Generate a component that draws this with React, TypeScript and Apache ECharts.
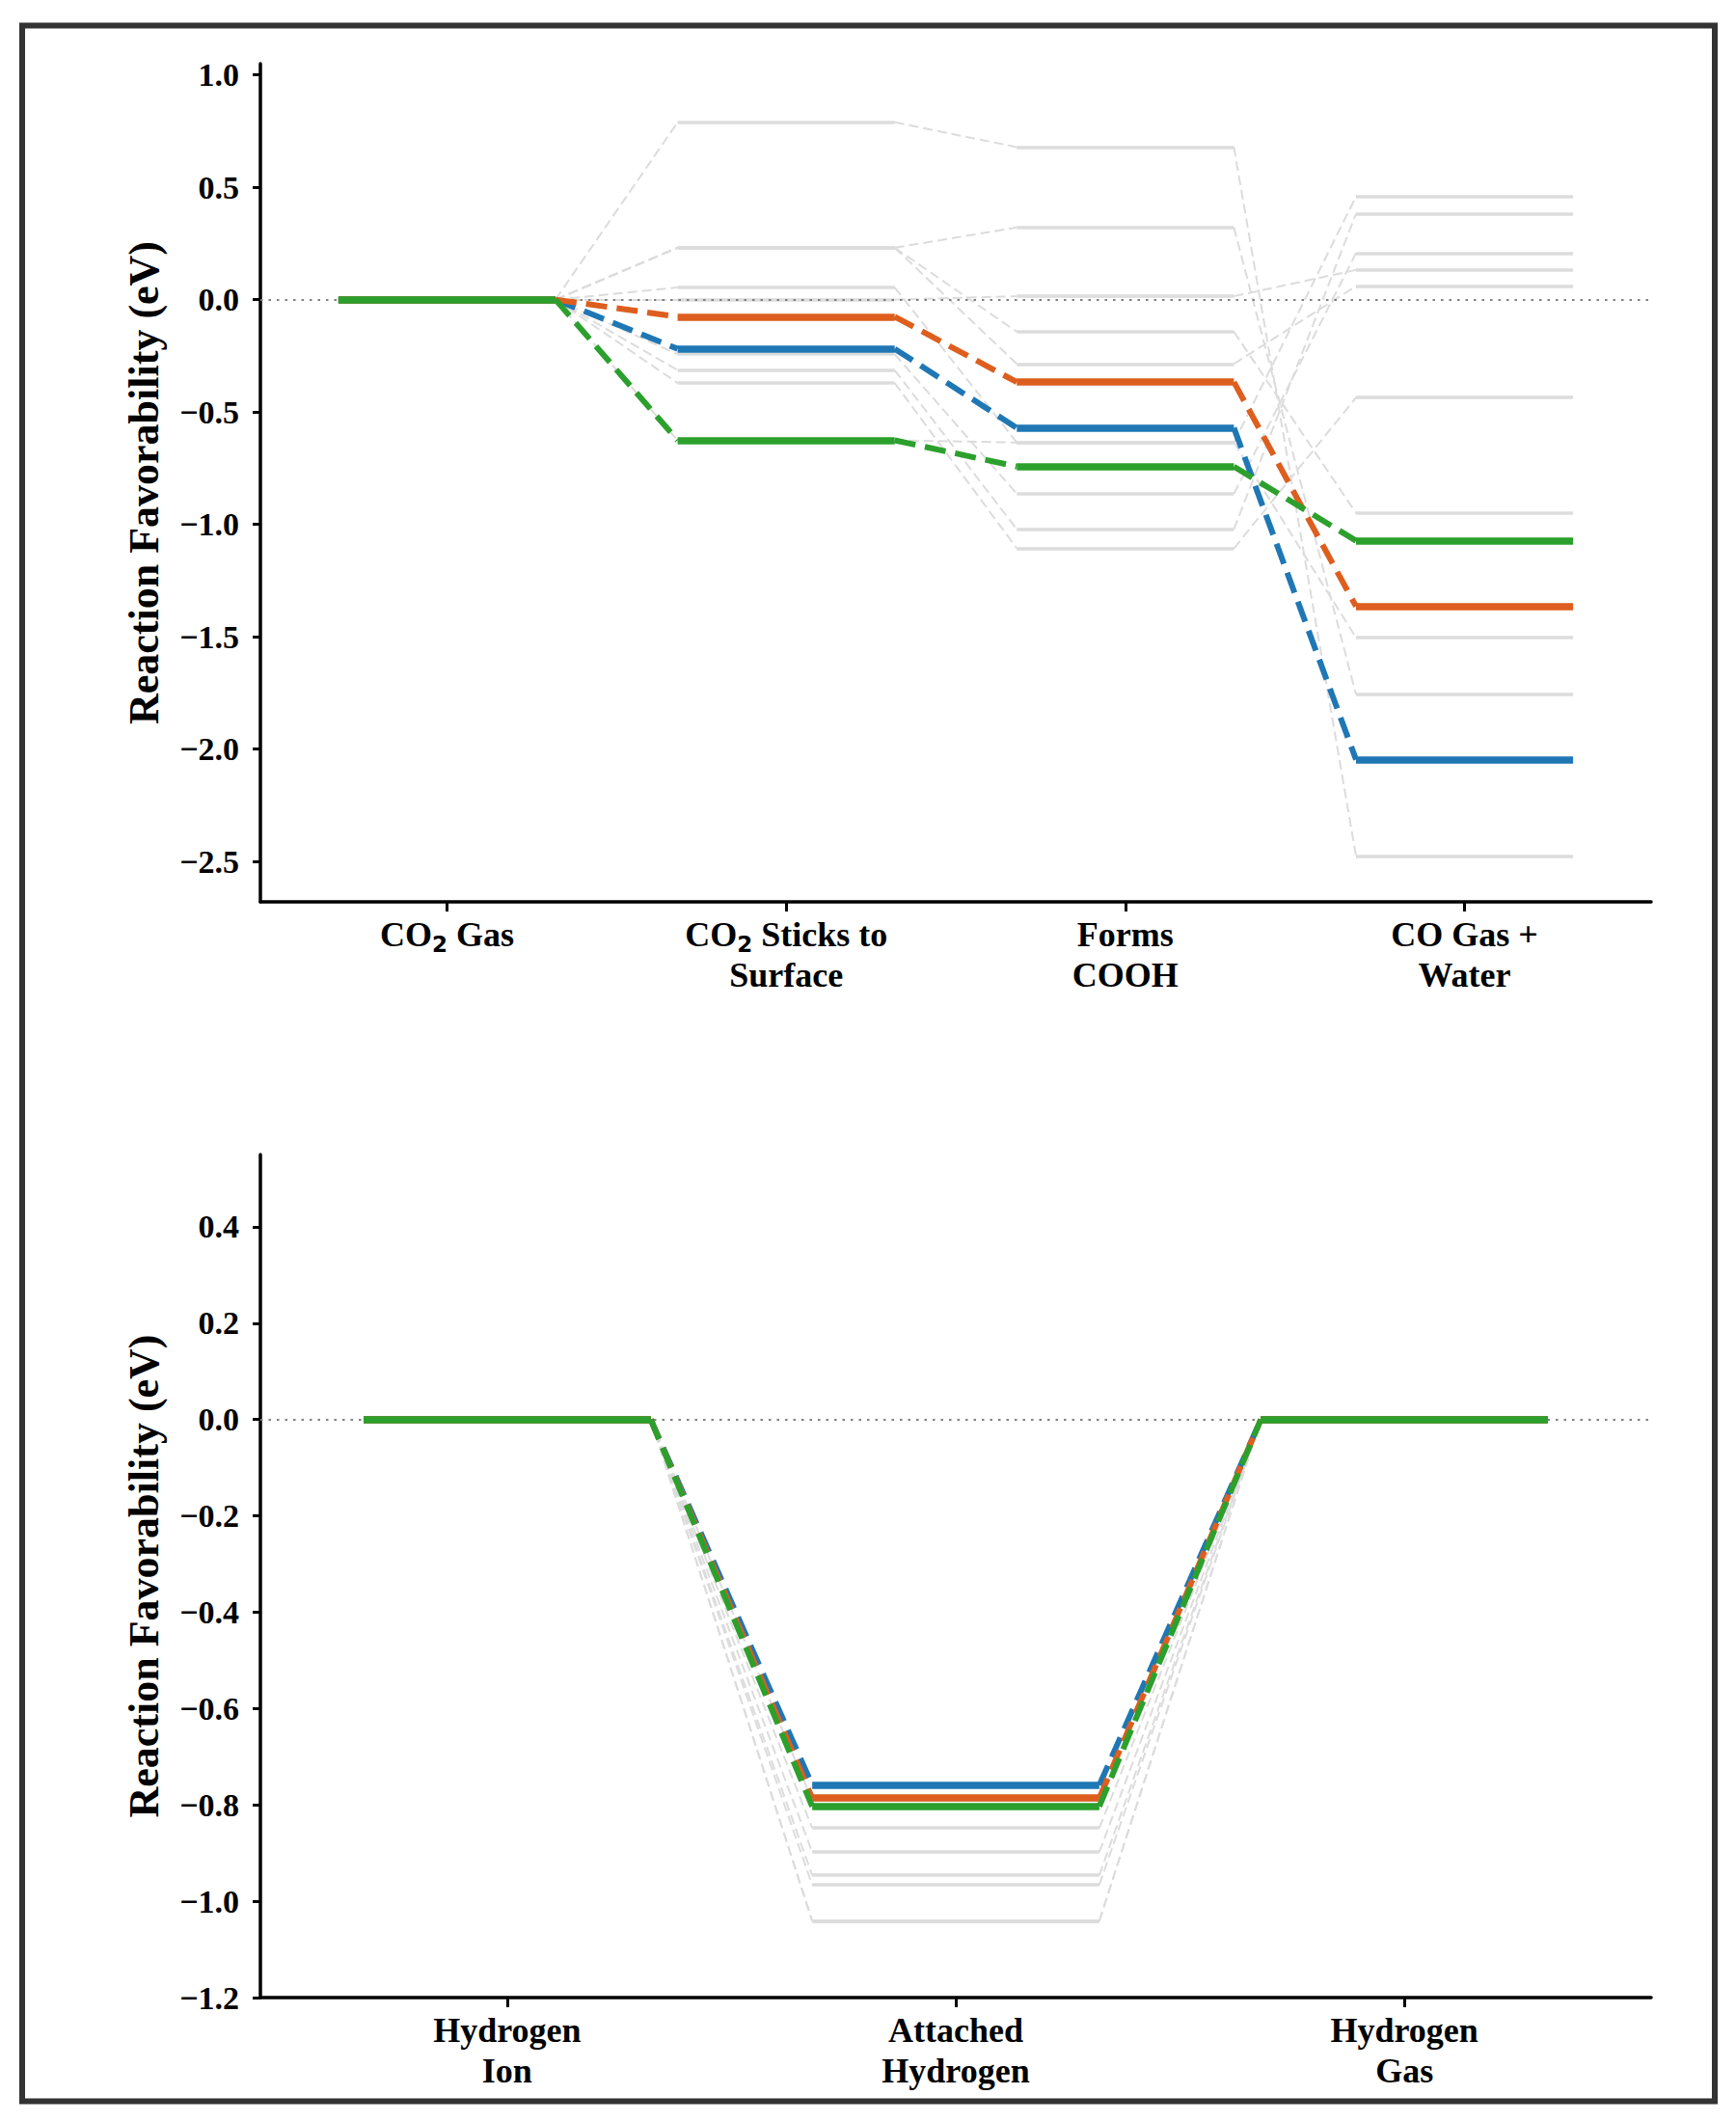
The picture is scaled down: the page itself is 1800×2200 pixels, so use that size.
import React, { useEffect, useRef } from "react";
import * as echarts from "echarts";

// ---------- data ----------
const TOP_STEPS = ["CO{s|2} Gas", "CO{s|2} Sticks to\nSurface", "Forms\nCOOH", "CO Gas +\nWater"];
const TOP_ORANGE = [0, -0.076, -0.367, -1.365];
const TOP_BLUE = [0, -0.219, -0.571, -2.047];
const TOP_GREEN = [0, -0.626, -0.743, -1.073];
const TOP_GRAY_PATHS = [
  [0, 0.789, 0.679, -2.476],
  [0, 0.231, 0.321, -1.757],
  [0, 0.231, -0.143, -0.95],
  [0, 0.231, -0.286, 0.06],
  [0, 0.054, -0.636, 0.459],
  [0, 0.0, 0.015, 0.132],
  [0, -0.243, -0.864, 0.207],
  [0, -0.314, -1.022, 0.382],
  [0, -0.371, -1.107, -0.436],
  [0, -0.626, -0.636, -1.504],
];
const TOP_Y_TICKS = [-2.5, -2.0, -1.5, -1.0, -0.5, 0.0, 0.5, 1.0];
const TOP_Y_RANGE = [-2.68, 1.05];
const TOP_X_RANGE = [-0.55, 3.55];

const BOT_STEPS = ["Hydrogen\nIon", "Attached\nHydrogen", "Hydrogen\nGas"];
const BOT_ORANGE = [0, -0.786, 0];
const BOT_BLUE = [0, -0.759, 0];
const BOT_GREEN = [0, -0.803, 0];
const BOT_GRAY_PATHS = [
  [0, -0.79, 0],
  [0, -0.848, 0],
  [0, -0.898, 0],
  [0, -0.946, 0],
  [0, -0.966, 0],
  [0, -1.041, 0],
  [0, -1.041, 0],
];
const BOT_Y_TICKS = [-1.2, -1.0, -0.8, -0.6, -0.4, -0.2, 0.0, 0.2, 0.4];
const BOT_Y_RANGE = [-1.2, 0.55];
const BOT_X_RANGE = [-0.55, 2.55];

const Y_TITLE = "Reaction Favorability (eV)";

// ---------- styles ----------
const HALF = 0.32;
const ORANGE = "#dd5e1e";
const BLUE = "#1f77b4";
const GREEN = "#2ca02c";
const GRAY = "#dcdcdc";
const FONT = "Liberation Serif";

function levelSegs(path: number[]) {
  return path.map((y, i) => ({ coords: [[i - HALF, y], [i + HALF, y]] }));
}
function connSegs(path: number[]) {
  return path.slice(1).map((y, i) => ({ coords: [[i + HALF, path[i]], [i + 1 - HALF, y]] }));
}

function linesSeries(idx: number, data: any[], color: string, width: number, type: any) {
  return {
    type: "lines",
    coordinateSystem: "cartesian2d",
    xAxisIndex: idx,
    yAxisIndex: idx,
    silent: true,
    polyline: false,
    data,
    lineStyle: { color, width, type, opacity: 1, cap: "butt", curveness: 0 },
  };
}

function panelSeries(idx: number, grays: number[][], colored: [number[], string][], xr: number[]) {
  const out: any[] = [];
  const gConn: any[] = [];
  const gLev: any[] = [];
  grays.forEach((p) => {
    gConn.push(...connSegs(p));
    gLev.push(...levelSegs(p));
  });
  out.push(linesSeries(idx, gConn, GRAY, 2, [10, 5]));
  out.push(linesSeries(idx, gLev, GRAY, 3.5, "solid"));
  out.push(linesSeries(idx, [{ coords: [[xr[0], 0], [xr[1], 0]] }], "#808080", 2, [2.5, 6]));
  colored.forEach(([p, c]) => {
    out.push(linesSeries(idx, connSegs(p), c, 6, [22, 10]));
    out.push(linesSeries(idx, levelSegs(p), c, 7.5, "solid"));
  });
  return out;
}

function fmtY(v: number) {
  const s = Math.abs(v).toFixed(1);
  return v < -1e-9 ? "\u2212" + s : s;
}

function xAxisCfg(idx: number, range: number[], cats: string[]) {
  const vals = cats.map((_, i) => i);
  return {
    type: "value",
    gridIndex: idx,
    min: range[0],
    max: range[1],
    axisLine: { show: true, onZero: false, lineStyle: { color: "#000", width: 3.5 } },
    axisTick: { show: true, customValues: vals, length: 10, lineStyle: { color: "#000", width: 3 } },
    axisLabel: {
      customValues: vals,
      formatter: (v: number) => cats[Math.round(v)],
      fontFamily: FONT,
      fontSize: 36,
      fontWeight: "bold",
      color: "#000",
      lineHeight: 42,
      margin: 13,
      rich: {
        s: { fontFamily: "DejaVu Sans", fontSize: 23, fontWeight: "bold", color: "#000", verticalAlign: "bottom" },
      },
    },
    splitLine: { show: false },
  };
}

function yAxisCfg(idx: number, range: number[], ticks: number[]) {
  return {
    type: "value",
    gridIndex: idx,
    min: range[0],
    max: range[1],
    name: Y_TITLE,
    nameLocation: "middle",
    nameGap: 99,
    nameTextStyle: { fontFamily: FONT, fontSize: 44, fontWeight: "bold", color: "#000" },
    axisLine: { show: true, onZero: false, lineStyle: { color: "#000", width: 3.5 } },
    axisTick: { show: true, customValues: ticks, length: 8, lineStyle: { color: "#000", width: 3 } },
    axisLabel: {
      customValues: ticks,
      formatter: fmtY,
      fontFamily: FONT,
      fontSize: 34,
      fontWeight: "bold",
      color: "#000",
      margin: 22,
    },
    splitLine: { show: false },
  };
}

export default function App() {
  const ref = useRef<HTMLDivElement>(null);
  useEffect(() => {
    if (!ref.current) return;
    const chart = echarts.init(ref.current, null, { renderer: "svg" });
    const option: any = {
      animation: false,
      backgroundColor: "#ffffff",
      textStyle: { fontFamily: FONT },
      grid: [
        { left: 270, top: 66, width: 1442, height: 869 },
        { left: 270, top: 1197, width: 1442, height: 874 },
      ],
      xAxis: [xAxisCfg(0, TOP_X_RANGE, TOP_STEPS), xAxisCfg(1, BOT_X_RANGE, BOT_STEPS)],
      yAxis: [yAxisCfg(0, TOP_Y_RANGE, TOP_Y_TICKS), yAxisCfg(1, BOT_Y_RANGE, BOT_Y_TICKS)],
      series: [
        ...panelSeries(0, TOP_GRAY_PATHS, [[TOP_BLUE, BLUE], [TOP_ORANGE, ORANGE], [TOP_GREEN, GREEN]], TOP_X_RANGE),
        ...panelSeries(1, BOT_GRAY_PATHS, [[BOT_BLUE, BLUE], [BOT_ORANGE, ORANGE], [BOT_GREEN, GREEN]], BOT_X_RANGE),
      ],
      graphic: [
        {
          type: "rect",
          silent: true,
          shape: { x: 23, y: 26.5, width: 1755, height: 2152 },
          style: { fill: "transparent", stroke: "#333333", lineWidth: 6 },
          z: 100,
        },
      ],
    };
    chart.setOption(option);
    return () => chart.dispose();
  }, []);
  return (
    <div
      ref={ref}
      style={{ position: "absolute", left: 0, top: 0, width: 1800, height: 2200, background: "#fff" }}
    />
  );
}
